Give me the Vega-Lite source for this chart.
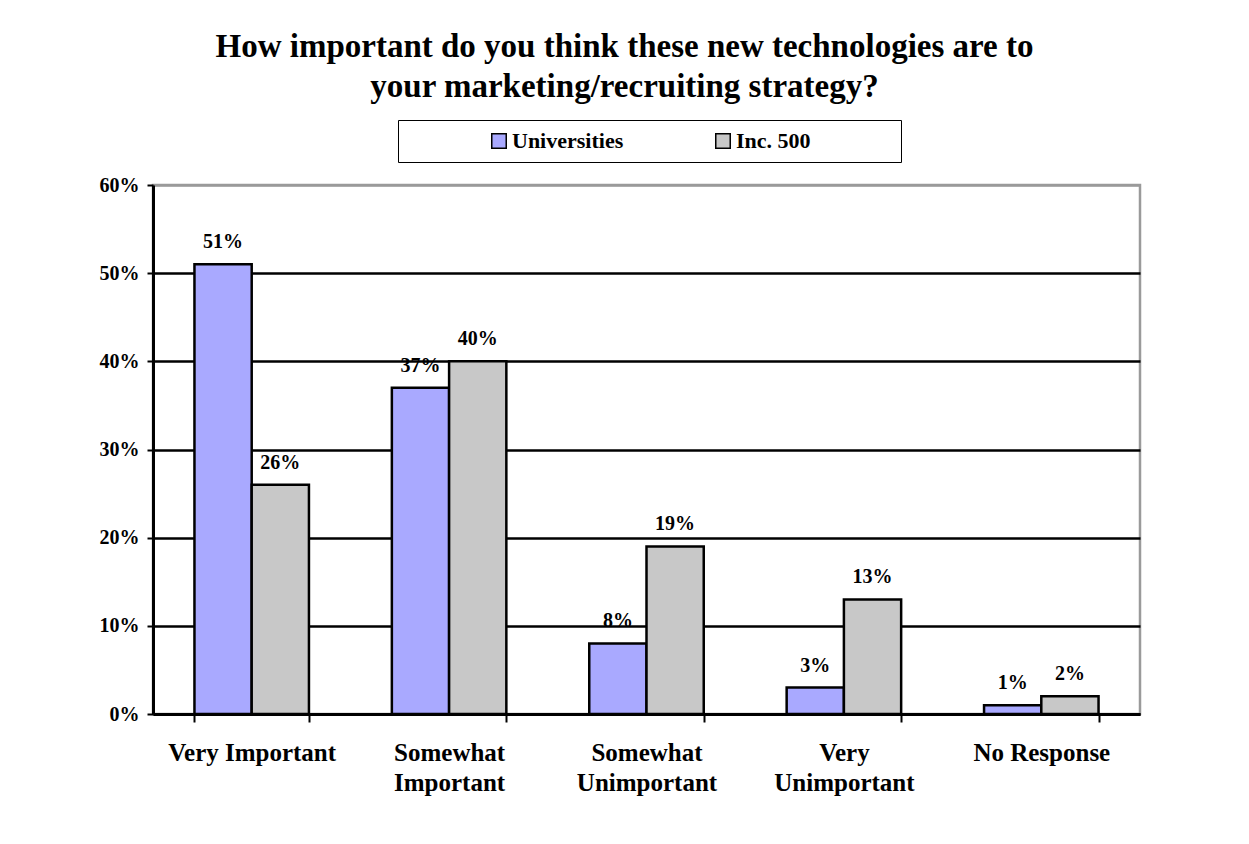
{
  "$schema": "https://vega.github.io/schema/vega-lite/v6.json",
  "width": 987,
  "height": 529,
  "autosize": {"type": "none"},
  "padding": {"left": 153, "top": 185, "right": 109, "bottom": 130},
  "background": "white",
  "title": {
    "text": ["How important do you think these new technologies are to", "your marketing/recruiting strategy?"],
    "font": "Liberation Serif",
    "fontSize": 33,
    "fontWeight": "bold",
    "color": "black",
    "anchor": "middle",
    "frame": "group",
    "dx": -22,
    "offset": 16,
    "lineHeight": 40
  },
  "data": {
    "values": [
      {"category": "Very Important", "series": "Universities", "value": 0.51},
      {"category": "Very Important", "series": "Inc. 500", "value": 0.26},
      {"category": "Somewhat Important", "series": "Universities", "value": 0.37},
      {"category": "Somewhat Important", "series": "Inc. 500", "value": 0.40},
      {"category": "Somewhat Unimportant", "series": "Universities", "value": 0.08},
      {"category": "Somewhat Unimportant", "series": "Inc. 500", "value": 0.19},
      {"category": "Very Unimportant", "series": "Universities", "value": 0.03},
      {"category": "Very Unimportant", "series": "Inc. 500", "value": 0.13},
      {"category": "No Response", "series": "Universities", "value": 0.01},
      {"category": "No Response", "series": "Inc. 500", "value": 0.02}
    ]
  },
  "encoding": {
    "x": {
      "field": "category",
      "type": "nominal",
      "sort": null,
      "scale": {"paddingInner": 0.42, "paddingOuter": 0.21},
      "axis": {
        "title": null,
        "labelAngle": 0,
        "labelFont": "Liberation Serif",
        "labelFontSize": 25,
        "labelFontWeight": "bold",
        "labelColor": "black",
        "labelPadding": 18,
        "labelBaseline": "top",
        "labelLineHeight": 30,
        "labelExpr": "datum.value == 'Somewhat Important' ? ['Somewhat', 'Important'] : datum.value == 'Somewhat Unimportant' ? ['Somewhat', 'Unimportant'] : datum.value == 'Very Unimportant' ? ['Very', 'Unimportant'] : datum.value",
        "tickBand": "extent",
        "tickColor": "black",
        "tickWidth": 2,
        "tickSize": 8,
        "domainColor": "black",
        "domainWidth": 3,
        "grid": false
      }
    },
    "xOffset": {"field": "series", "type": "nominal", "sort": ["Universities", "Inc. 500"], "scale": {"paddingInner": 0, "paddingOuter": 0}},
    "y": {
      "field": "value",
      "type": "quantitative",
      "scale": {"domain": [0, 0.6]},
      "axis": {
        "title": null,
        "values": [0, 0.1, 0.2, 0.3, 0.4, 0.5, 0.6],
        "format": ".0%",
        "labelFont": "Liberation Serif",
        "labelFontSize": 20,
        "labelFontWeight": "bold",
        "labelColor": "black",
        "labelPadding": 8,
        "tickColor": "black",
        "tickWidth": 2,
        "tickSize": 6,
        "domainColor": "black",
        "domainWidth": 3,
        "gridColor": {"condition": {"test": "datum.value >= 0.6", "value": "#9a9a9a"}, "value": "black"},
        "gridWidth": 2.5
      }
    }
  },
  "layer": [
    {
      "mark": {"type": "bar", "stroke": "black", "strokeWidth": 2.5},
      "encoding": {
        "color": {
          "field": "series",
          "type": "nominal",
          "sort": ["Universities", "Inc. 500"],
          "scale": {"domain": ["Universities", "Inc. 500"], "range": ["#A9A9FF", "#C8C8C8"]},
          "legend": {
            "title": "\u00a0",
            "titleOrient": "right",
            "titlePadding": 80,
            "titleFontSize": 10,
            "orient": "none",
            "legendX": 245,
            "legendY": -65,
            "direction": "horizontal",
            "strokeColor": "black",
            "fillColor": "white",
            "padding": 10,
            "symbolType": "square",
            "symbolSize": 210,
            "symbolStrokeColor": "black",
            "symbolStrokeWidth": 1.5,
            "symbolOffset": 80,
            "columnPadding": 8,
            "labelFont": "Liberation Serif",
            "labelFontSize": 22,
            "labelFontWeight": "bold",
            "labelColor": "black",
            "labelOffset": 2
          }
        }
      }
    },
    {
      "mark": {"type": "text", "baseline": "bottom", "dy": -12, "font": "Liberation Serif", "fontSize": 20, "fontWeight": "bold", "color": "black"},
      "encoding": {
        "text": {"field": "value", "type": "quantitative", "format": ".0%"}
      }
    }
  ],
  "config": {
    "view": {"stroke": "#9a9a9a", "strokeWidth": 2.5}
  }
}
